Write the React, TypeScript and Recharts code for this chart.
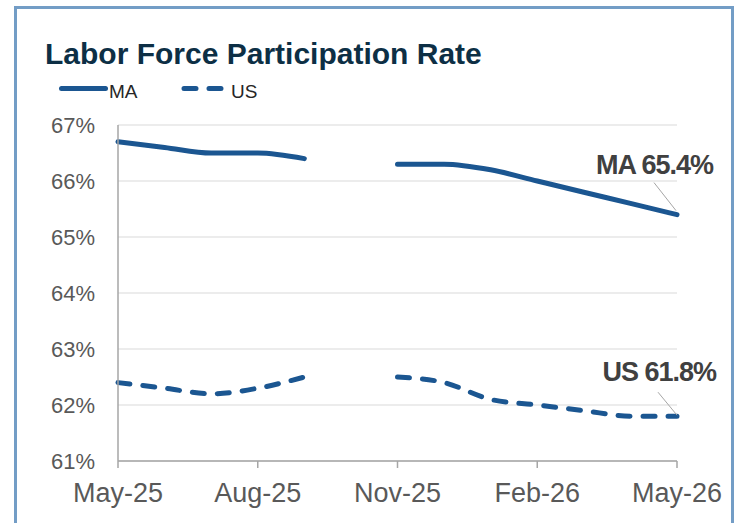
import React from 'react';
import { LineChart, Line, XAxis, YAxis, CartesianGrid, LabelList } from 'recharts';

const months = [
  'May-25', 'Jun-25', 'Jul-25', 'Aug-25', 'Sep-25', 'Oct-25', 'Nov-25',
  'Dec-25', 'Jan-26', 'Feb-26', 'Mar-26', 'Apr-26', 'May-26'
];
const maRate = [66.7, 66.6, 66.5, 66.5, 66.4, null, 66.3, 66.3, 66.2, 66.0, 65.8, 65.6, 65.4];
const usRate = [62.4, 62.3, 62.2, 62.3, 62.5, null, 62.5, 62.4, 62.1, 62.0, 61.9, 61.8, 61.8];
const yTicks = [61, 62, 63, 64, 65, 66, 67];

const data = months.map((month, i) => ({ month, MA: maRate[i], US: usRate[i] }));

const LINE_COLOR = '#1b5691';
const FONT = "'Liberation Sans', Arial, sans-serif";

// callout on the last point of a series: bold text plus a thin leader line
const makeEndLabel = (name: string, textDx: number, textDy: number, lead: number[]) =>
  (props: any) => {
    const { x, y, value, index } = props;
    if (index !== months.length - 1 || value == null) return null;
    return (
      <g>
        <line
          x1={x + lead[0]} y1={y + lead[1]} x2={x + lead[2]} y2={y + lead[3]}
          stroke="#a6a6a6" strokeWidth={1}
        />
        <text
          x={x + textDx} y={y + textDy} textAnchor="end"
          fontFamily={FONT} fontWeight={700} fontSize={27} letterSpacing={-1} fill="#404040"
        >
          {`${name} ${Number(value).toFixed(1)}%`}
        </text>
      </g>
    );
  };

const App = () => {
  return (
    <div style={{ position: 'absolute', left: 0, top: 0, width: 740, height: 523, background: '#fff', overflow: 'hidden' }}>
      <div
        style={{
          position: 'absolute', left: 14, top: 6, width: 714, height: 560,
          border: '3px solid #739dc6', boxSizing: 'content-box'
        }}
      />
      <svg width={740} height={110} style={{ position: 'absolute', left: 0, top: 0 }}>
        <text x={45} y={64} fontFamily={FONT} fontWeight={700} fontSize={30} fill="#0d2f45">
          Labor Force Participation Rate
        </text>
        <line x1={61.5} y1={88.5} x2={105.5} y2={88.5} stroke={LINE_COLOR} strokeWidth={5} strokeLinecap="round" />
        <text x={109} y={98} fontFamily={FONT} fontSize={19} fill="#262626">MA</text>
        <line
          x1={184} y1={88.5} x2={223} y2={88.5} stroke={LINE_COLOR} strokeWidth={5}
          strokeLinecap="round" strokeDasharray="12 13"
        />
        <text x={231} y={98} fontFamily={FONT} fontSize={19} fill="#262626">US</text>
      </svg>
      <div style={{ position: 'absolute', left: 0, top: 0 }}>
        <LineChart
          width={740}
          height={523}
          data={data}
          margin={{ top: 125, right: 63, bottom: 12, left: 0 }}
        >
          <CartesianGrid vertical={false} stroke="#d9d9d9" strokeWidth={1} />
          <XAxis
            dataKey="month"
            interval={2}
            height={50}
            axisLine={{ stroke: '#a6a6a6', strokeWidth: 1.5 }}
            tickLine={{ stroke: '#a6a6a6', strokeWidth: 1.5 }}
            tickSize={7}
            tickMargin={15}
            tick={{ fill: '#595959', fontSize: 27, fontFamily: FONT }}
          />
          <YAxis
            type="number"
            domain={[61, 67]}
            ticks={yTicks}
            width={118}
            tickFormatter={(v: number) => `${v}%`}
            axisLine={{ stroke: '#a6a6a6', strokeWidth: 1.5 }}
            tickLine={false}
            tickMargin={17}
            tick={{ fill: '#595959', fontSize: 22, fontFamily: FONT }}
          />
          <Line
            type="monotone"
            dataKey="MA"
            stroke={LINE_COLOR}
            strokeWidth={5}
            strokeLinecap="round"
            dot={false}
            activeDot={false}
            isAnimationActive={false}
          >
            <LabelList dataKey="MA" content={makeEndLabel('MA', 36, -41, [-23, -32, -1, -4])} />
          </Line>
          <Line
            type="monotone"
            dataKey="US"
            stroke={LINE_COLOR}
            strokeWidth={5}
            strokeLinecap="round"
            strokeDasharray="12 13"
            dot={false}
            activeDot={false}
            isAnimationActive={false}
          >
            <LabelList dataKey="US" content={makeEndLabel('US', 39, -35.5, [-19, -24, 0, -1])} />
          </Line>
        </LineChart>
      </div>
    </div>
  );
};

export default App;
